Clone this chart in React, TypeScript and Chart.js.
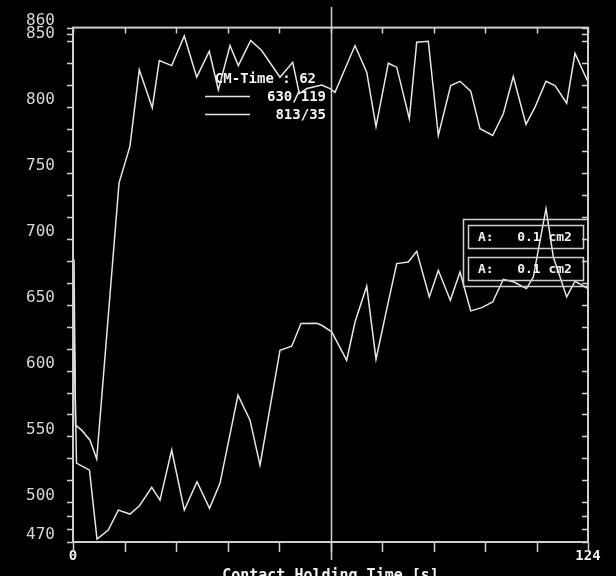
import React, { useEffect, useRef } from 'react';
import { Chart, registerables } from 'chart.js';

Chart.register(...registerables);

const X_MIN = 0;
const X_MAX = 124;
const Y_MIN = 470;
const Y_MAX = 860;
const cursorTime = 62;
const legendTitle = 'CM-Time : 62';
const seriesLabels = ['630/119', '813/35'];
const areaLabels = ['A:   0.1 cm2', 'A:   0.1 cm2'];
const xAxisTitle = 'Contact Holding Time [s]';

const xTickValues = [0, 12.4, 24.8, 37.2, 49.6, 62, 74.4, 86.8, 99.2, 111.6, 124];
const xLabeledTicks = [0, 124];
const yTickValues = [
  860, 855, 850, 833.33, 816.67, 800, 783.33, 766.67, 750, 733.33, 716.67, 700,
  683.33, 666.67, 650, 633.33, 616.67, 600, 583.33, 566.67, 550, 533.33, 516.67,
  500, 490, 480, 470,
];
const yLabeledTicks = [860, 850, 800, 750, 700, 650, 600, 550, 500, 470];

const upperTime = [
  0.24, 0.6, 2.09, 4.09, 5.71, 11.08, 13.72, 15.96, 19.09, 20.78, 23.76, 26.8,
  29.78, 32.82, 34.99, 37.8, 39.8, 42.79, 45.43, 49.84, 52.9, 54.49, 56.34,
  59.88, 61.88, 63.08, 67.9, 70.72, 72.96, 75.92, 77.94, 80.98, 82.76, 85.55,
  87.96, 90.94, 93.18, 95.76, 98.0, 101.05, 103.61, 106.01, 109.07, 111.24,
  113.89, 116.05, 118.87, 120.87, 123.83,
];
const upperValue = [
  684.3, 558.6, 554.8, 547.2, 532.9, 742.1, 770.1, 828.0, 799.2, 835.0, 831.2,
  853.6, 822.4, 842.1, 812.8, 846.4, 831.2, 850.2, 842.6, 822.4, 833.7, 810.0,
  813.8, 816.5, 813.8, 811.0, 846.4, 826.2, 785.0, 833.0, 830.0, 790.9, 848.9,
  849.6, 778.2, 816.1, 819.3, 811.8, 783.3, 778.2, 794.7, 822.9, 786.6, 799.7,
  819.3, 816.1, 802.7, 840.5, 819.9,
];

const lowerTime = [
  0.24, 0.84, 3.97, 5.78, 8.5, 10.91, 13.72, 15.96, 18.95, 20.95, 23.76, 26.8,
  29.86, 32.87, 35.39, 39.73, 42.62, 45.03, 49.84, 52.66, 54.9, 58.68, 59.88,
  62.29, 65.9, 67.9, 70.72, 72.96, 75.92, 77.94, 80.73, 82.76, 85.79, 87.96,
  90.85, 93.18, 95.76, 98.41, 101.05, 103.61, 106.18, 109.19, 110.83, 113.89,
  115.65, 118.87, 120.87, 124.0,
];
const lowerValue = [
  634.3, 529.8, 524.5, 472.3, 479.1, 494.2, 491.2, 497.3, 511.4, 501.8, 539.7,
  494.2, 515.7, 495.5, 514.5, 581.3, 562.4, 528.3, 615.4, 618.4, 635.6, 635.8,
  634.3, 629.3, 607.8, 636.8, 663.9, 608.6, 652.0, 681.1, 682.3, 690.4, 655.8,
  676.0, 653.3, 674.7, 645.2, 647.7, 652.0, 669.2, 667.1, 662.1, 670.9, 722.7,
  686.1, 655.8, 667.7, 662.1,
];

const LINE_COLOR = '#e6e6e6';
const AXIS_COLOR = '#cfcfcf';
const MONO = '"DejaVu Sans Mono", "Liberation Mono", monospace';

const overlayPlugin = {
  id: 'overlay',
  afterDatasetsDraw(chart: any) {
    const { ctx, chartArea, scales } = chart;
    const { left, right, top, bottom } = chartArea;
    const xs = scales.x;
    const ys = scales.y;
    ctx.save();
    // frame
    ctx.strokeStyle = AXIS_COLOR;
    ctx.lineWidth = 2;
    ctx.strokeRect(left, top, right - left, bottom - top);
    // tick marks
    ctx.lineWidth = 1.5;
    ctx.beginPath();
    yTickValues.forEach((v) => {
      const py = Math.round(ys.getPixelForValue(v)) + 0.5;
      ctx.moveTo(left - 6, py);
      ctx.lineTo(left, py);
      ctx.moveTo(right - 6, py);
      ctx.lineTo(right, py);
    });
    xTickValues.forEach((v) => {
      const px = Math.round(xs.getPixelForValue(v)) + 0.5;
      ctx.moveTo(px, top);
      ctx.lineTo(px, top + 6);
      ctx.moveTo(px, bottom);
      ctx.lineTo(px, bottom + 10);
    });
    ctx.stroke();
    // cursor line
    const cx = Math.round(xs.getPixelForValue(cursorTime)) + 0.5;
    ctx.lineWidth = 1.5;
    ctx.beginPath();
    ctx.moveTo(cx, 7);
    ctx.lineTo(cx, 560);
    ctx.stroke();

    // legend
    ctx.fillStyle = '#f2f2f2';
    ctx.font = `bold 14px ${MONO}`;
    ctx.textBaseline = 'middle';
    ctx.textAlign = 'right';
    ctx.fillText(legendTitle, 316, 79);
    ctx.strokeStyle = LINE_COLOR;
    ctx.lineWidth = 1.5;
    seriesLabels.forEach((lab, i) => {
      const y = 96 + i * 18;
      ctx.beginPath();
      ctx.moveTo(205, y + 0.5);
      ctx.lineTo(250, y + 0.5);
      ctx.stroke();
      ctx.fillText(lab, 326, y + 1);
    });

    // area boxes
    ctx.strokeStyle = AXIS_COLOR;
    ctx.lineWidth = 1.5;
    ctx.strokeRect(463.5, 219.5, right - 463.5, 67);
    ctx.font = `bold 13px ${MONO}`;
    ctx.textAlign = 'left';
    areaLabels.forEach((lab, i) => {
      const y0 = 225.5 + i * 32;
      ctx.strokeRect(468.5, y0, 115, 23);
      ctx.fillText(lab, 478, y0 + 12.5);
    });

    // axis title (partially out of view)
    ctx.font = `bold 15px ${MONO}`;
    ctx.textAlign = 'center';
    ctx.textBaseline = 'top';
    ctx.fillText(xAxisTitle, (left + right) / 2, 569);
    ctx.restore();
  },
};

export default function App() {
  const ref = useRef<HTMLCanvasElement | null>(null);
  useEffect(() => {
    if (!ref.current) return;
    const chart = new Chart(ref.current, {
      type: 'line',
      data: {
        datasets: [
          {
            label: seriesLabels[0],
            data: upperTime.map((t, i) => ({ x: t, y: upperValue[i] })),
            borderColor: LINE_COLOR,
            borderWidth: 1.5,
            pointRadius: 0,
            tension: 0,
            fill: false,
          },
          {
            label: seriesLabels[1],
            data: lowerTime.map((t, i) => ({ x: t, y: lowerValue[i] })),
            borderColor: LINE_COLOR,
            borderWidth: 1.5,
            pointRadius: 0,
            tension: 0,
            fill: false,
          },
        ],
      },
      options: {
        animation: false,
        responsive: false,
        maintainAspectRatio: false,
        devicePixelRatio: 1,
        layout: { padding: { top: 27, right: 28, left: 0, bottom: 0 } },
        plugins: { legend: { display: false }, tooltip: { enabled: false } },
        scales: {
          x: {
            type: 'linear',
            min: X_MIN,
            max: X_MAX,
            position: 'bottom',
            afterBuildTicks: (s: any) => {
              s.ticks = xTickValues.map((v) => ({ value: v }));
            },
            afterFit: (s: any) => {
              s.height = 34;
            },
            grid: { display: false, drawTicks: false },
            border: { display: false },
            ticks: {
              autoSkip: false,
              maxRotation: 0,
              padding: 6,
              color: '#f2f2f2',
              font: { family: MONO, size: 14, weight: 'bold' },
              callback: (v: any) => (xLabeledTicks.includes(Number(v)) ? String(v) : ''),
            },
          },
          y: {
            type: 'linear',
            min: Y_MIN,
            max: Y_MAX,
            position: 'left',
            afterBuildTicks: (s: any) => {
              s.ticks = yTickValues.map((v) => ({ value: v }));
            },
            afterFit: (s: any) => {
              s.width = 73;
            },
            grid: { display: false, drawTicks: false },
            border: { display: false },
            ticks: {
              autoSkip: false,
              padding: 18,
              labelOffset: -7,
              color: '#d6d6d6',
              font: { family: MONO, size: 16 },
              callback: (v: any) => (yLabeledTicks.includes(Number(v)) ? String(v) : ''),
            },
          },
        },
      },
      plugins: [overlayPlugin],
    } as any);
    return () => chart.destroy();
  }, []);
  return (
    <div style={{ position: 'absolute', left: 0, top: 0, width: 616, height: 576, background: '#000', overflow: 'hidden' }}>
      <canvas ref={ref} width={616} height={576} style={{ display: 'block' }} />
    </div>
  );
}
